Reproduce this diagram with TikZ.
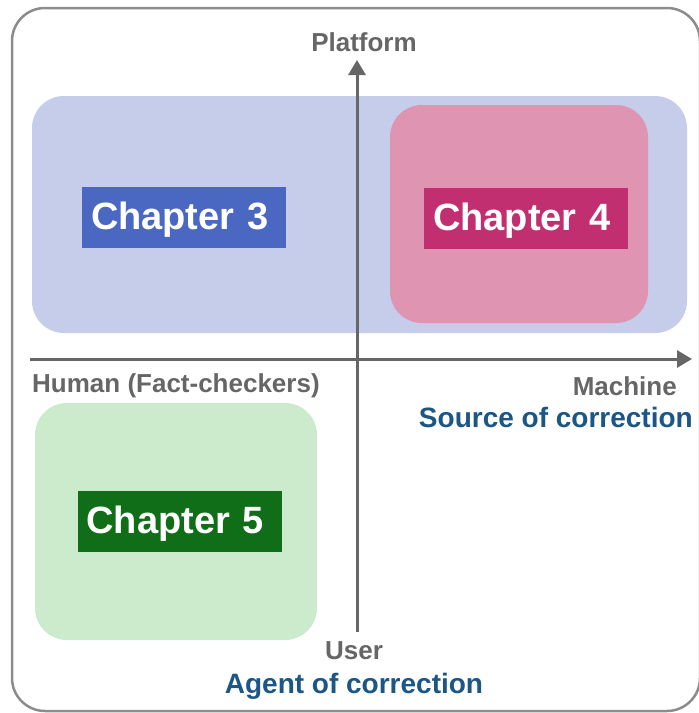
\documentclass[tikz,border=0pt]{standalone}
\usepackage{fontspec}
\setmainfont{Liberation Sans}
\usetikzlibrary{arrows.meta}
\definecolor{bordergray}{HTML}{8C8C8C}
\definecolor{axisgray}{HTML}{666666}
\definecolor{labelblue}{HTML}{1B5685}
\definecolor{bgblue}{HTML}{C5CDEA}
\definecolor{bgpink}{HTML}{DF95B2}
\definecolor{bggreen}{HTML}{CCEBCC}
\definecolor{ch3}{HTML}{4A67C1}
\definecolor{ch4}{HTML}{C22F70}
\definecolor{ch5}{HTML}{0F6E17}
\tikzset{
  region/.style={rounded corners=32pt},
  chapbox/.style={inner xsep=9pt, inner ysep=0pt, text width=186pt, align=left,
    text height=31pt, text depth=7pt,
    minimum height=61pt, text=white, font=\bfseries\fontsize{38}{42}\selectfont},
  axislabel/.style={text=axisgray, inner sep=0pt, font=\bfseries\fontsize{26}{30}\selectfont},
  titlelabel/.style={text=labelblue, inner sep=0pt, font=\bfseries\fontsize{28}{32}\selectfont},
  axis/.style={draw=axisgray, line width=3pt, -{Triangle[length=15pt,width=17pt]}}
}
\begin{document}
\begin{tikzpicture}[x=1pt,y=-1pt]
\useasboundingbox (0,0) rectangle (699,713);
\clip (0,0) rectangle (699,713);
\draw[bordergray, line width=2.5pt, rounded corners=33pt] (12,8) rectangle (700,711);
% regions
\fill[bgblue, region] (32,96) rectangle (687,333);
\fill[bgpink, region] (390,105) rectangle (648,323);
\fill[bggreen, region] (35,403) rectangle (317,640);
% chapter boxes
\node[chapbox, fill=ch3] (c3) at (184,217.5) {Chapter 3};
\node[chapbox, fill=ch4] (c4) at (526,218) {Chapter 4};
\node[chapbox, fill=ch5] (c5) at (179.5,521) {Chapter 5};
% axes
\coordinate (xstart) at (30,359);
\coordinate (xend) at (692,359);
\coordinate (ystart) at (357,632);
\coordinate (yend) at (357,60);
\draw[axis] (xstart) -- (xend);
\draw[axis] (ystart) -- (yend);
% labels
\node[axislabel, anchor=base] (platform) at (364,51) {Platform};
\node[axislabel, anchor=base west] (human) at (32,392) {Human (Fact-checkers)};
\node[axislabel, anchor=base east] (machine) at (677,395) {Machine};
\node[titlelabel, anchor=base east] (source) at (693,427) {Source of correction};
\node[axislabel, anchor=base] (user) at (354,659) {User};
\node[titlelabel, anchor=base] (agent) at (354,693) {Agent of correction};
\end{tikzpicture}
\end{document}
